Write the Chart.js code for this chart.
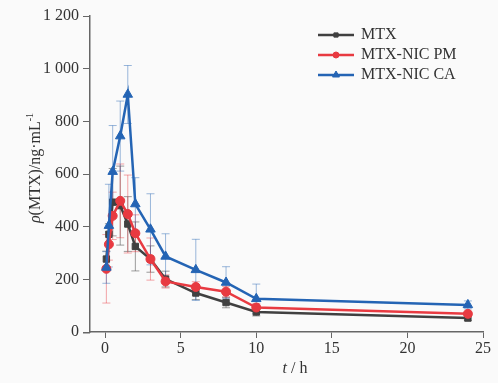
<!DOCTYPE html>
<html>
<head>
<meta charset="utf-8">
<script src="https://cdn.jsdelivr.net/npm/chart.js@4/dist/chart.umd.min.js"></script>
<style>
  html, body { margin: 0; padding: 0; background: #fafafa; }
  #wrap { width: 498px; height: 383px; position: relative; }
</style>
</head>
<body>
<div id="wrap"><canvas id="c" width="498" height="383"></canvas></div>
<script>
// 采样时间 (h)
const times = [0.083, 0.25, 0.5, 1, 1.5, 2, 3, 4, 6, 8, 10, 24]

// 各组血药浓度 ng/mL 及标准差
const mtx = [277, 371, 493, 480, 410, 325, 277, 201, 148, 112, 76, 53]
const mtxErr = [30, 40, 128, 150, 104, 93, 50, 30, 25, 20, 15, 10]
const pm = [240, 333, 441, 498, 448, 375, 277, 192, 171, 153, 93, 69]
const pmErr = [130, 60, 90, 140, 148, 70, 80, 25, 20, 20, 15, 10]
const ca = [245, 404, 609, 744, 902, 486, 390, 287, 236, 188, 126, 103]
const caErr = [60, 157, 175, 133, 110, 100, 135, 86, 116, 60, 56, 15]

const seriesNames = ['MTX', 'MTX-NIC PM', 'MTX-NIC CA']
const xTicks = [0, 5, 10, 15, 20, 25]

const FONT = '"Liberation Serif", "Times New Roman", serif'
const AXIS = '#666'

const pts = (ys) => times.map((t, i) => ({ x: t, y: ys[i] }))

const datasets = [
  { label: seriesNames[0], data: pts(mtx), err: mtxErr, borderColor: '#404040', backgroundColor: '#404040',
    errColor: 'rgba(90,90,90,0.6)', pointStyle: 'rect', pointRadius: 4.5, order: 3 },
  { label: seriesNames[1], data: pts(pm), err: pmErr, borderColor: '#e83a41', backgroundColor: '#e83a41',
    errColor: 'rgba(232,58,65,0.45)', pointStyle: 'circle', pointRadius: 4.5, order: 2 },
  { label: seriesNames[2], data: pts(ca), err: caErr, borderColor: '#2464b4', backgroundColor: '#2464b4',
    errColor: 'rgba(36,100,180,0.45)', pointStyle: 'triangle', pointRadius: 5.5, order: 1 },
]
datasets.forEach(d => {
  d.borderWidth = 2.5
  d.pointBorderWidth = 1
  d.tension = 0
  d.pointHoverRadius = d.pointRadius
})

// 误差线
const errorBars = {
  id: 'errorBars',
  beforeDatasetsDraw(chart) {
    const { ctx, scales: { x, y } } = chart
    ctx.save()
    ctx.lineWidth = 1
    chart.data.datasets.forEach(ds => {
      ctx.strokeStyle = ds.errColor
      ds.data.forEach((p, i) => {
        const px = x.getPixelForValue(p.x)
        const top = y.getPixelForValue(p.y + ds.err[i])
        const bot = y.getPixelForValue(p.y - ds.err[i])
        ctx.beginPath()
        ctx.moveTo(px, top); ctx.lineTo(px, bot)
        ctx.moveTo(px - 4, top); ctx.lineTo(px + 4, top)
        ctx.moveTo(px - 4, bot); ctx.lineTo(px + 4, bot)
        ctx.stroke()
      })
    })
    ctx.restore()
  }
}

// 图例与坐标轴标题
const decorations = {
  id: 'decorations',
  beforeDraw(chart) {
    const ctx = chart.ctx
    ctx.save()
    ctx.fillStyle = '#fafafa'
    ctx.fillRect(0, 0, chart.width, chart.height)
    ctx.restore()
  },
  afterDraw(chart) {
    const ctx = chart.ctx
    ctx.save()
    ctx.textBaseline = 'middle'

    // legend
    chart.data.datasets.forEach((ds, i) => {
      const yy = 35 + i * 20
      ctx.strokeStyle = ds.borderColor
      ctx.fillStyle = ds.backgroundColor
      ctx.lineWidth = 2.5
      ctx.beginPath(); ctx.moveTo(318, yy); ctx.lineTo(354, yy); ctx.stroke()
      ctx.lineWidth = 1
      Chart.helpers.drawPoint(ctx, {
        pointStyle: ds.pointStyle, radius: ds.pointRadius - 1.5, borderWidth: 1
      }, 336, yy)
      ctx.fillStyle = '#333'
      ctx.font = '16px ' + FONT
      ctx.textAlign = 'left'
      ctx.fillText(ds.label, 361, yy)
    })

    // x title
    ctx.fillStyle = '#333'
    ctx.textAlign = 'left'
    ctx.font = 'italic 16px ' + FONT
    const w1 = ctx.measureText('t').width
    ctx.font = '16px ' + FONT
    const w2 = ctx.measureText(' / h').width
    let sx = 295 - (w1 + w2) / 2
    ctx.font = 'italic 16px ' + FONT
    ctx.fillText('t', sx, 369)
    ctx.font = '16px ' + FONT
    ctx.fillText(' / h', sx + w1, 369)

    // y title
    ctx.translate(36, 168)
    ctx.rotate(-Math.PI / 2)
    ctx.font = 'italic 16px ' + FONT
    const a = ctx.measureText('ρ').width
    ctx.font = '16px ' + FONT
    const b = ctx.measureText('(MTX)/ng·mL').width
    ctx.font = '10px ' + FONT
    const c = ctx.measureText('-1').width
    sx = -(a + b + c) / 2
    ctx.font = 'italic 16px ' + FONT
    ctx.fillText('ρ', sx, 0)
    ctx.font = '16px ' + FONT
    ctx.fillText('(MTX)/ng·mL', sx + a, 0)
    ctx.font = '10px ' + FONT
    ctx.fillText('-1', sx + a + b, -6)
    ctx.restore()

    // x 轴线略向左延伸
    const x = chart.scales.x
    ctx.save()
    ctx.strokeStyle = AXIS
    ctx.lineWidth = 1.5
    ctx.beginPath()
    ctx.moveTo(x.left - 7, x.top + 0.75)
    ctx.lineTo(x.left, x.top + 0.75)
    ctx.stroke()
    ctx.restore()
  }
}

new Chart(document.getElementById('c'), {
  type: 'line',
  data: { datasets },
  options: {
    responsive: false,
    animation: false,
    layout: { padding: { top: 16, right: 15, left: 0, bottom: 0 } },
    plugins: { legend: { display: false }, tooltip: { enabled: false } },
    scales: {
      x: {
        type: 'linear',
        min: -1,
        max: 25,
        afterBuildTicks: s => { s.ticks = xTicks.map(v => ({ value: v })) },
        afterFit: s => { s.height = 51 },
        ticks: { color: '#333', font: { family: FONT, size: 16 }, padding: 1, maxRotation: 0 },
        grid: { drawOnChartArea: false, drawTicks: true, tickLength: 6, color: AXIS },
        border: { color: AXIS, width: 1.5 }
      },
      y: {
        min: 0,
        max: 1200,
        afterFit: s => { s.width = 90 },
        ticks: {
          stepSize: 200,
          color: '#333',
          font: { family: FONT, size: 16 },
          padding: 4,
          callback: v => String(v).replace(/\B(?=(\d{3})+(?!\d))/g, ' ')
        },
        grid: { drawOnChartArea: false, drawTicks: true, tickLength: 7, color: AXIS },
        border: { color: AXIS, width: 1.5 }
      }
    }
  },
  plugins: [errorBars, decorations]
})
</script>
</body>
</html>
